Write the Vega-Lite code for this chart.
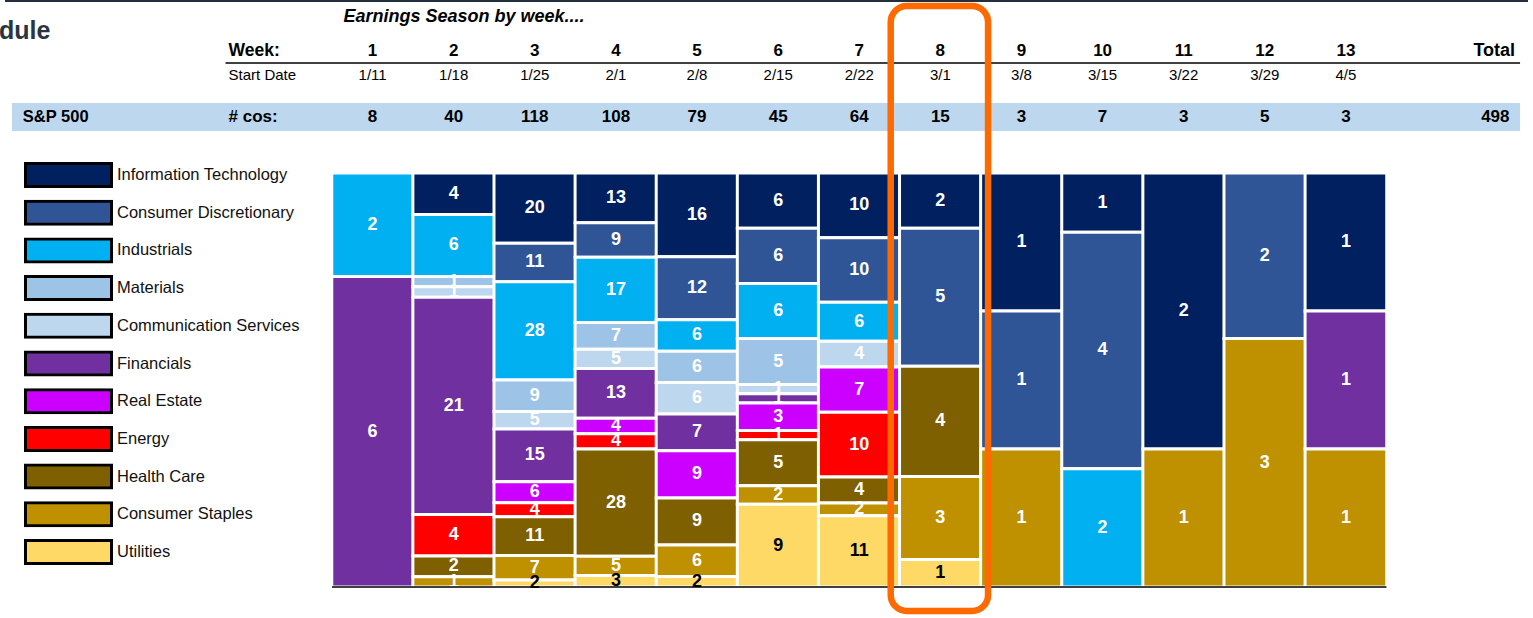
{
  "$schema": "https://vega.github.io/schema/vega-lite/v6.json",
  "width": 1533,
  "height": 618,
  "padding": 0,
  "autosize": {"type": "none"},
  "background": "white",
  "config": {"view": {"stroke": null}},
  "datasets": {
    "counts": [
      {"week": 1, "sector": "Industrials", "n": 2},
      {"week": 1, "sector": "Financials", "n": 6},
      {"week": 2, "sector": "Information Technology", "n": 4},
      {"week": 2, "sector": "Industrials", "n": 6},
      {"week": 2, "sector": "Materials", "n": 1},
      {"week": 2, "sector": "Communication Services", "n": 1},
      {"week": 2, "sector": "Financials", "n": 21},
      {"week": 2, "sector": "Energy", "n": 4},
      {"week": 2, "sector": "Health Care", "n": 2},
      {"week": 2, "sector": "Consumer Staples", "n": 1},
      {"week": 3, "sector": "Information Technology", "n": 20},
      {"week": 3, "sector": "Consumer Discretionary", "n": 11},
      {"week": 3, "sector": "Industrials", "n": 28},
      {"week": 3, "sector": "Materials", "n": 9},
      {"week": 3, "sector": "Communication Services", "n": 5},
      {"week": 3, "sector": "Financials", "n": 15},
      {"week": 3, "sector": "Real Estate", "n": 6},
      {"week": 3, "sector": "Energy", "n": 4},
      {"week": 3, "sector": "Health Care", "n": 11},
      {"week": 3, "sector": "Consumer Staples", "n": 7},
      {"week": 3, "sector": "Utilities", "n": 2},
      {"week": 4, "sector": "Information Technology", "n": 13},
      {"week": 4, "sector": "Consumer Discretionary", "n": 9},
      {"week": 4, "sector": "Industrials", "n": 17},
      {"week": 4, "sector": "Materials", "n": 7},
      {"week": 4, "sector": "Communication Services", "n": 5},
      {"week": 4, "sector": "Financials", "n": 13},
      {"week": 4, "sector": "Real Estate", "n": 4},
      {"week": 4, "sector": "Energy", "n": 4},
      {"week": 4, "sector": "Health Care", "n": 28},
      {"week": 4, "sector": "Consumer Staples", "n": 5},
      {"week": 4, "sector": "Utilities", "n": 3},
      {"week": 5, "sector": "Information Technology", "n": 16},
      {"week": 5, "sector": "Consumer Discretionary", "n": 12},
      {"week": 5, "sector": "Industrials", "n": 6},
      {"week": 5, "sector": "Materials", "n": 6},
      {"week": 5, "sector": "Communication Services", "n": 6},
      {"week": 5, "sector": "Financials", "n": 7},
      {"week": 5, "sector": "Real Estate", "n": 9},
      {"week": 5, "sector": "Health Care", "n": 9},
      {"week": 5, "sector": "Consumer Staples", "n": 6},
      {"week": 5, "sector": "Utilities", "n": 2},
      {"week": 6, "sector": "Information Technology", "n": 6},
      {"week": 6, "sector": "Consumer Discretionary", "n": 6},
      {"week": 6, "sector": "Industrials", "n": 6},
      {"week": 6, "sector": "Materials", "n": 5},
      {"week": 6, "sector": "Communication Services", "n": 1},
      {"week": 6, "sector": "Financials", "n": 1},
      {"week": 6, "sector": "Real Estate", "n": 3},
      {"week": 6, "sector": "Energy", "n": 1},
      {"week": 6, "sector": "Health Care", "n": 5},
      {"week": 6, "sector": "Consumer Staples", "n": 2},
      {"week": 6, "sector": "Utilities", "n": 9},
      {"week": 7, "sector": "Information Technology", "n": 10},
      {"week": 7, "sector": "Consumer Discretionary", "n": 10},
      {"week": 7, "sector": "Industrials", "n": 6},
      {"week": 7, "sector": "Communication Services", "n": 4},
      {"week": 7, "sector": "Real Estate", "n": 7},
      {"week": 7, "sector": "Energy", "n": 10},
      {"week": 7, "sector": "Health Care", "n": 4},
      {"week": 7, "sector": "Consumer Staples", "n": 2},
      {"week": 7, "sector": "Utilities", "n": 11},
      {"week": 8, "sector": "Information Technology", "n": 2},
      {"week": 8, "sector": "Consumer Discretionary", "n": 5},
      {"week": 8, "sector": "Health Care", "n": 4},
      {"week": 8, "sector": "Consumer Staples", "n": 3},
      {"week": 8, "sector": "Utilities", "n": 1},
      {"week": 9, "sector": "Information Technology", "n": 1},
      {"week": 9, "sector": "Consumer Discretionary", "n": 1},
      {"week": 9, "sector": "Consumer Staples", "n": 1},
      {"week": 10, "sector": "Information Technology", "n": 1},
      {"week": 10, "sector": "Consumer Discretionary", "n": 4},
      {"week": 10, "sector": "Industrials", "n": 2},
      {"week": 11, "sector": "Information Technology", "n": 2},
      {"week": 11, "sector": "Consumer Staples", "n": 1},
      {"week": 12, "sector": "Consumer Discretionary", "n": 2},
      {"week": 12, "sector": "Consumer Staples", "n": 3},
      {"week": 13, "sector": "Information Technology", "n": 1},
      {"week": 13, "sector": "Financials", "n": 1},
      {"week": 13, "sector": "Consumer Staples", "n": 1}
    ],
    "sectors": [
      {"sector": "Information Technology", "rank": 1},
      {"sector": "Consumer Discretionary", "rank": 2},
      {"sector": "Industrials", "rank": 3},
      {"sector": "Materials", "rank": 4},
      {"sector": "Communication Services", "rank": 5},
      {"sector": "Financials", "rank": 6},
      {"sector": "Real Estate", "rank": 7},
      {"sector": "Energy", "rank": 8},
      {"sector": "Health Care", "rank": 9},
      {"sector": "Consumer Staples", "rank": 10},
      {"sector": "Utilities", "rank": 11}
    ],
    "weeks": [
      {"week": 1, "start": "1/11", "cos": 8},
      {"week": 2, "start": "1/18", "cos": 40},
      {"week": 3, "start": "1/25", "cos": 118},
      {"week": 4, "start": "2/1", "cos": 108},
      {"week": 5, "start": "2/8", "cos": 79},
      {"week": 6, "start": "2/15", "cos": 45},
      {"week": 7, "start": "2/22", "cos": 64},
      {"week": 8, "start": "3/1", "cos": 15},
      {"week": 9, "start": "3/8", "cos": 3},
      {"week": 10, "start": "3/15", "cos": 7},
      {"week": 11, "start": "3/22", "cos": 3},
      {"week": 12, "start": "3/29", "cos": 5},
      {"week": 13, "start": "4/5", "cos": 3}
    ]
  },
  "layer": [
    {
      "data": {"name": "counts"},
      "transform": [{"lookup": "sector", "from": {"data": {"name": "sectors"}, "key": "sector", "fields": ["rank"]}}],
      "mark": {"type": "bar", "width": 81.64, "stroke": "white", "strokeWidth": 3},
      "encoding": {
        "x": {"field": "week", "type": "quantitative", "scale": {"domain": [-3.532, 15.245], "nice": false, "zero": false}, "axis": null},
        "y": {"field": "n", "type": "quantitative", "stack": "normalize", "scale": {"domain": [-0.07488, 1.41787], "nice": false, "zero": false}, "axis": null},
        "color": {
          "field": "sector",
          "type": "nominal",
          "scale": {
            "domain": ["Information Technology", "Consumer Discretionary", "Industrials", "Materials", "Communication Services", "Financials", "Real Estate", "Energy", "Health Care", "Consumer Staples", "Utilities"],
            "range": ["#002060", "#2F5597", "#00B0F0", "#9DC3E6", "#BDD7EE", "#7030A0", "#CC00FF", "#FF0000", "#7F6000", "#BF9000", "#FFD966"]
          },
          "legend": {
            "orient": "none",
            "legendX": 24,
            "legendY": 162,
            "title": null,
            "padding": 0,
            "symbolType": "M-1,-0.2674H1V0.2674H-1Z",
            "symbolSize": 7396,
            "symbolStrokeWidth": 3,
            "symbolStrokeColor": "black",
            "symbolOpacity": 1,
            "clipHeight": 26,
            "rowPadding": 11.7,
            "labelOffset": 4,
            "labelFontSize": 16.5,
            "labelFont": "Liberation Sans, Arial, sans-serif",
            "labelColor": "#111111",
            "labelLimit": 400,
            "encode": {"symbols": {"update": {"stroke": {"value": "black"}, "strokeWidth": {"value": 3}}}}
          }
        },
        "order": {"field": "rank", "type": "quantitative", "sort": "descending"}
      }
    },
    {
      "data": {"name": "counts"},
      "transform": [{"lookup": "sector", "from": {"data": {"name": "sectors"}, "key": "sector", "fields": ["rank"]}}],
      "mark": {"type": "text", "font": "Liberation Sans, Arial, sans-serif", "fontSize": 18, "fontWeight": "bold", "baseline": "middle", "align": "center"},
      "encoding": {
        "x": {"field": "week", "type": "quantitative"},
        "y": {"field": "n", "type": "quantitative", "stack": "normalize", "bandPosition": 0.5},
        "detail": {"field": "sector", "type": "nominal"},
        "order": {"field": "rank", "type": "quantitative", "sort": "descending"},
        "text": {"field": "n", "type": "quantitative"},
        "color": {"condition": {"test": "datum.sector === 'Utilities'", "value": "black"}, "value": "white"}
      }
    },
    {
      "data": {"values": [{}]},
      "mark": {"type": "rule", "color": "black", "strokeWidth": 1.5},
      "encoding": {"x": {"datum": 0.5}, "x2": {"datum": 13.5}, "y": {"datum": 0}}
    },
    {
      "data": {"values": [{}]},
      "mark": {"type": "rect", "color": "#BDD7EE"},
      "encoding": {"x": {"datum": -3.446}, "x2": {"datum": 15.147}, "y": {"datum": 1.1691}, "y2": {"datum": 1.1014}}
    },
    {
      "data": {"values": [{}]},
      "mark": {"type": "rule", "color": "black", "strokeWidth": 1.5},
      "encoding": {"x": {"datum": -0.813}, "x2": {"datum": 15.147}, "y": {"datum": 1.2657}}
    },
    {
      "data": {"values": [{}]},
      "mark": {"type": "rule", "color": "#232F3E", "strokeWidth": 2},
      "encoding": {"x": {"datum": -3.532}, "x2": {"datum": 15.245}, "y": {"datum": 1.41546}}
    },
    {
      "data": {"name": "weeks"},
      "mark": {"type": "text", "font": "Liberation Sans, Arial, sans-serif", "fontSize": 17, "fontWeight": "bold", "baseline": "middle", "align": "center", "color": "black"},
      "encoding": {"x": {"field": "week", "type": "quantitative"}, "y": {"datum": 1.2947}, "text": {"field": "week", "type": "quantitative"}}
    },
    {
      "data": {"name": "weeks"},
      "mark": {"type": "text", "font": "Liberation Sans, Arial, sans-serif", "fontSize": 15, "baseline": "middle", "align": "center", "color": "black"},
      "encoding": {"x": {"field": "week", "type": "quantitative"}, "y": {"datum": 1.2367}, "text": {"field": "start", "type": "nominal"}}
    },
    {
      "data": {"name": "weeks"},
      "mark": {"type": "text", "font": "Liberation Sans, Arial, sans-serif", "fontSize": 17, "fontWeight": "bold", "baseline": "middle", "align": "center", "color": "black"},
      "encoding": {"x": {"field": "week", "type": "quantitative"}, "y": {"datum": 1.1341}, "text": {"field": "cos", "type": "quantitative"}}
    },
    {
      "data": {"name": "weeks"},
      "mark": {"type": "text", "font": "Liberation Sans, Arial, sans-serif", "fontSize": 17, "fontWeight": "bold", "baseline": "middle", "align": "right", "color": "black"},
      "encoding": {"x": {"datum": 15.017}, "y": {"datum": 1.1341}, "text": {"aggregate": "sum", "field": "cos", "type": "quantitative"}}
    },
    {
      "data": {"values": [{}]},
      "mark": {"type": "text", "text": "Total", "font": "Liberation Sans, Arial, sans-serif", "fontSize": 18, "fontWeight": "bold", "baseline": "middle", "align": "right", "color": "black"},
      "encoding": {"x": {"datum": 15.086}, "y": {"datum": 1.2947}}
    },
    {
      "data": {"values": [{}]},
      "mark": {"type": "text", "text": "Week:", "font": "Liberation Sans, Arial, sans-serif", "fontSize": 17.5, "fontWeight": "bold", "baseline": "middle", "align": "left", "color": "black"},
      "encoding": {"x": {"datum": -0.776}, "y": {"datum": 1.2947}}
    },
    {
      "data": {"values": [{}]},
      "mark": {"type": "text", "text": "Start Date", "font": "Liberation Sans, Arial, sans-serif", "fontSize": 15, "baseline": "middle", "align": "left", "color": "black"},
      "encoding": {"x": {"datum": -0.776}, "y": {"datum": 1.2367}}
    },
    {
      "data": {"values": [{}]},
      "mark": {"type": "text", "text": "# cos:", "font": "Liberation Sans, Arial, sans-serif", "fontSize": 17, "fontWeight": "bold", "baseline": "middle", "align": "left", "color": "black"},
      "encoding": {"x": {"datum": -0.776}, "y": {"datum": 1.1341}}
    },
    {
      "data": {"values": [{}]},
      "mark": {"type": "text", "text": "S&P 500", "font": "Liberation Sans, Arial, sans-serif", "fontSize": 16.5, "fontWeight": "bold", "baseline": "middle", "align": "left", "color": "black"},
      "encoding": {"x": {"datum": -3.312}, "y": {"datum": 1.1341}}
    },
    {
      "data": {"values": [{}]},
      "mark": {"type": "text", "text": "Earnings Season by week....", "font": "Liberation Sans, Arial, sans-serif", "fontSize": 18, "fontWeight": "bold", "fontStyle": "italic", "baseline": "middle", "align": "center", "color": "black"},
      "encoding": {"x": {"datum": 2.127}, "y": {"datum": 1.3768}}
    },
    {
      "data": {"values": [{}]},
      "mark": {"type": "text", "text": "dule", "font": "Liberation Sans, Arial, sans-serif", "fontSize": 25, "fontWeight": "bold", "baseline": "alphabetic", "align": "left", "color": "#2B3441"},
      "encoding": {"x": {"datum": -3.606}, "y": {"datum": 1.3237}}
    },
    {
      "data": {"values": [{}]},
      "mark": {"type": "rect", "filled": false, "stroke": "#FF6A00", "strokeWidth": 6.5, "cornerRadius": 16},
      "encoding": {"x": {"datum": 7.388}, "x2": {"datum": 8.588}, "y": {"datum": 1.4034}, "y2": {"datum": -0.058}}
    }
  ]
}
